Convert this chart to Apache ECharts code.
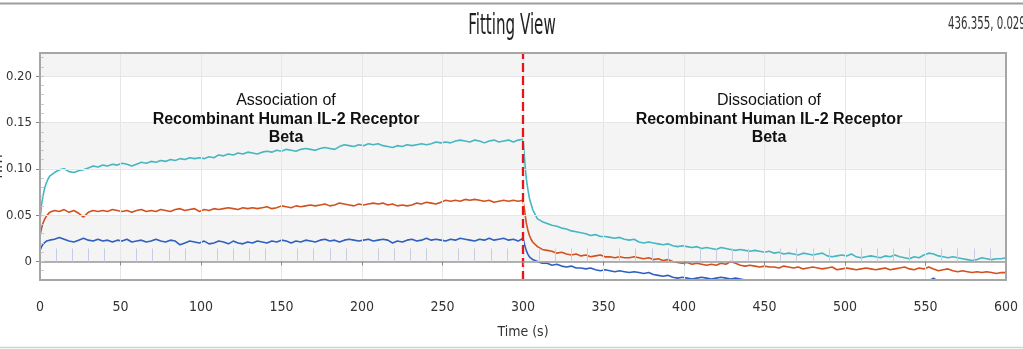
<!DOCTYPE html>
<html>
<head>
<meta charset="utf-8">
<script src="https://cdn.jsdelivr.net/npm/echarts@6/dist/echarts.min.js"></script>
<style>
  html, body { margin: 0; padding: 0; background: #ffffff; }
  #chart { width: 1023px; height: 349px; }
</style>
</head>
<body>
<div id="chart"></div>
<script>
// Sample times (s)
const timeS = [
  0, 1, 2, 3, 4, 5, 6, 9, 12, 15,
  18, 21, 24, 27, 30, 33, 36, 39, 42, 45,
  48, 51, 54, 57, 60, 63, 66, 69, 72, 75,
  78, 81, 84, 87, 90, 93, 96, 99, 102, 105,
  108, 111, 114, 117, 120, 123, 126, 129, 132, 135,
  138, 141, 144, 147, 150, 153, 156, 159, 162, 165,
  168, 171, 174, 177, 180, 183, 186, 189, 192, 195,
  198, 201, 204, 207, 210, 213, 216, 219, 222, 225,
  228, 231, 234, 237, 240, 243, 246, 249, 252, 255,
  258, 261, 264, 267, 270, 273, 276, 279, 282, 285,
  288, 291, 294, 297, 300, 301, 302, 303, 304, 305,
  306, 309, 312, 315, 318, 321, 324, 327, 330, 333,
  336, 339, 342, 345, 348, 351, 354, 357, 360, 363,
  366, 369, 372, 375, 378, 381, 384, 387, 390, 393,
  396, 399, 402, 405, 408, 411, 414, 417, 420, 423,
  426, 429, 432, 435, 438, 441, 444, 447, 450, 453,
  456, 459, 462, 465, 468, 471, 474, 477, 480, 483,
  486, 489, 492, 495, 498, 501, 504, 507, 510, 513,
  516, 519, 522, 525, 528, 531, 534, 537, 540, 543,
  546, 549, 552, 555, 558, 561, 564, 567, 570, 573,
  576, 579, 582, 585, 588, 591, 594, 597, 600
];

// Binding response (nm), highest concentration
const tealNm = [
  0.045, 0.062, 0.072, 0.080, 0.085, 0.089, 0.092, 0.096, 0.099, 0.100,
  0.097, 0.096, 0.098, 0.099, 0.101, 0.103, 0.102, 0.104, 0.103, 0.105,
  0.104, 0.106, 0.105, 0.103, 0.105, 0.107, 0.106, 0.108, 0.107, 0.109,
  0.108, 0.110, 0.109, 0.111, 0.110, 0.112, 0.111, 0.112, 0.111, 0.113,
  0.112, 0.115, 0.114, 0.116, 0.115, 0.117, 0.116, 0.118, 0.117, 0.116,
  0.118, 0.119, 0.118, 0.120, 0.119, 0.121, 0.120, 0.119, 0.121, 0.122,
  0.121, 0.120, 0.122, 0.123, 0.122, 0.121, 0.124, 0.126, 0.125, 0.124,
  0.126, 0.125, 0.127, 0.126, 0.127, 0.125, 0.124, 0.123, 0.125, 0.124,
  0.126, 0.125, 0.126, 0.127, 0.126, 0.127, 0.129, 0.128, 0.129, 0.128,
  0.130, 0.131, 0.130, 0.129, 0.131, 0.130, 0.128, 0.130, 0.131, 0.129,
  0.130, 0.131, 0.129, 0.131, 0.132, 0.110, 0.090, 0.078, 0.068, 0.062,
  0.056, 0.046, 0.043, 0.041, 0.039, 0.038, 0.036, 0.035, 0.033, 0.032,
  0.031, 0.030, 0.028, 0.029, 0.027, 0.027, 0.026, 0.025, 0.026, 0.024,
  0.023, 0.024, 0.021, 0.020, 0.021, 0.020, 0.019, 0.018, 0.019, 0.017,
  0.016, 0.017, 0.016, 0.015, 0.016, 0.014, 0.015, 0.014, 0.013, 0.015,
  0.014, 0.013, 0.012, 0.013, 0.012, 0.011, 0.012, 0.011, 0.010, 0.011,
  0.009, 0.010, 0.008, 0.009, 0.008, 0.007, 0.009, 0.008, 0.007, 0.008,
  0.009, 0.006, 0.005, 0.006, 0.007, 0.006, 0.008, 0.005, 0.004, 0.005,
  0.006, 0.005, 0.004, 0.006, 0.005, 0.007, 0.005, 0.004, 0.003, 0.005,
  0.004, 0.007, 0.009, 0.008, 0.006, 0.005, 0.004, 0.005, 0.004, 0.003,
  0.002, 0.001, 0.002, 0.004, 0.003, 0.002, 0.003, 0.003, 0.004
];

// Binding response (nm), middle concentration
const orangeNm = [
  0.028, 0.036, 0.042, 0.046, 0.049, 0.051, 0.053, 0.055, 0.054, 0.056,
  0.053, 0.055, 0.052, 0.048, 0.053, 0.055, 0.054, 0.055, 0.054, 0.056,
  0.055, 0.054, 0.055, 0.053, 0.055, 0.056, 0.054, 0.055, 0.054, 0.056,
  0.055, 0.054, 0.056, 0.057, 0.055, 0.056, 0.057, 0.054, 0.056, 0.055,
  0.057, 0.056, 0.057, 0.058, 0.057, 0.056, 0.058, 0.057, 0.058, 0.057,
  0.058, 0.059, 0.057, 0.058, 0.060, 0.059, 0.058, 0.060, 0.059, 0.060,
  0.061, 0.060, 0.061, 0.062, 0.060, 0.061, 0.063, 0.062, 0.061, 0.060,
  0.062, 0.061, 0.062, 0.063, 0.062, 0.063, 0.061, 0.062, 0.060, 0.061,
  0.060, 0.061, 0.063, 0.062, 0.064, 0.063, 0.062, 0.064, 0.066, 0.065,
  0.066, 0.065, 0.067, 0.066, 0.067, 0.066, 0.065, 0.066, 0.064, 0.065,
  0.066, 0.065, 0.066, 0.065, 0.066, 0.055, 0.042, 0.034, 0.028, 0.024,
  0.021, 0.016, 0.013, 0.012, 0.011, 0.009, 0.010, 0.008, 0.007, 0.008,
  0.006, 0.007, 0.005, 0.006, 0.007, 0.005, 0.005, 0.004, 0.005, 0.004,
  0.004, 0.005, 0.004, 0.003, 0.004, 0.002, 0.003, 0.001, 0.002, 0.000,
  -0.001, -0.002, -0.001, -0.003, -0.002, -0.003, -0.004, -0.003, -0.004, -0.002,
  -0.003, 0.000, -0.002, -0.004, -0.005, -0.004, -0.005, -0.006, -0.005, -0.006,
  -0.006, -0.007, -0.005, -0.006, -0.007, -0.006, -0.008, -0.007, -0.006, -0.007,
  -0.008, -0.007, -0.006, -0.009, -0.008, -0.007, -0.008, -0.009, -0.008, -0.007,
  -0.008, -0.009, -0.008, -0.007, -0.009, -0.008, -0.007, -0.006, -0.008, -0.009,
  -0.007, -0.008, -0.006, -0.008, -0.010, -0.009, -0.008, -0.010, -0.011, -0.010,
  -0.011, -0.012, -0.011, -0.012, -0.011, -0.012, -0.013, -0.012, -0.012
];

// Binding response (nm), lowest concentration
const blueNm = [
  0.012, 0.016, 0.019, 0.021, 0.022, 0.021, 0.023, 0.024, 0.026, 0.024,
  0.022, 0.021, 0.023, 0.025, 0.023, 0.022, 0.024, 0.022, 0.023, 0.021,
  0.023, 0.022, 0.024, 0.021, 0.022, 0.023, 0.021, 0.022, 0.024, 0.022,
  0.021, 0.023, 0.022, 0.018, 0.020, 0.022, 0.021, 0.020, 0.022, 0.019,
  0.020, 0.022, 0.021, 0.019, 0.022, 0.020, 0.019, 0.021, 0.020, 0.022,
  0.021, 0.020, 0.022, 0.021, 0.023, 0.022, 0.020, 0.022, 0.021, 0.023,
  0.022, 0.021, 0.023, 0.024, 0.022, 0.023, 0.021, 0.023, 0.024, 0.023,
  0.022, 0.023, 0.024, 0.022, 0.023, 0.024, 0.023, 0.020, 0.022, 0.021,
  0.023, 0.024, 0.022, 0.023, 0.025, 0.023, 0.024, 0.023, 0.022, 0.024,
  0.023, 0.025, 0.024, 0.023, 0.022, 0.024, 0.023, 0.025, 0.023, 0.024,
  0.025, 0.023, 0.024, 0.022, 0.025, 0.018, 0.012, 0.008, 0.005, 0.003,
  0.002, 0.000, -0.002, -0.002, -0.004, -0.003, -0.005, -0.006, -0.005, -0.007,
  -0.007, -0.008, -0.007, -0.009, -0.010, -0.009, -0.010, -0.011, -0.010, -0.011,
  -0.012, -0.011, -0.012, -0.013, -0.012, -0.014, -0.015, -0.016, -0.015, -0.017,
  -0.018, -0.017, -0.018, -0.019, -0.018, -0.017, -0.018, -0.019, -0.018, -0.017,
  -0.018, -0.019, -0.018, -0.019, -0.020, -0.021, -0.022, -0.021, -0.022, -0.023,
  -0.022, -0.023, -0.024, -0.023, -0.024, -0.025, -0.024, -0.023, -0.024, -0.025,
  -0.024, -0.023, -0.024, -0.025, -0.024, -0.023, -0.024, -0.025, -0.024, -0.023,
  -0.024, -0.025, -0.024, -0.023, -0.024, -0.025, -0.024, -0.023, -0.024, -0.025,
  -0.024, -0.023, -0.021, -0.018, -0.022, -0.024, -0.025, -0.024, -0.023, -0.024,
  -0.025, -0.024, -0.025, -0.026, -0.025, -0.024, -0.025, -0.026, -0.025
];

// Axis ranges and tick values
const timeRange = [0, 600];
const timeStep = 50;
const timeGridLines = [50, 100, 150, 200, 250, 300, 350, 400, 450, 500, 550];
const nmRange = [-0.02, 0.225];
const nmMinorStep = 0.01;
const nmLabelValues = [0, 0.05, 0.10, 0.15, 0.20];
const nmBandEdges = [-0.02, 0, 0.05, 0.10, 0.15, 0.20, 0.225];
const switchTime = 300;

// Texts
const titleText = 'Fitting View';
const readoutText = '436.355, 0.029';
const assocLines = ['Association of', 'Recombinant Human IL-2 Receptor', 'Beta'];
const dissocLines = ['Dissociation of', 'Recombinant Human IL-2 Receptor', 'Beta'];

const NARROW = '"Liberation Sans Narrow", "DejaVu Sans Condensed", "Arial Narrow", sans-serif';
const ARIAL = '"Liberation Sans", Arial, sans-serif';

function pairs(values) {
  return timeS.map((t, i) => [t, values[i]]);
}

// alternate shaded bands between the major y values
const bandData = [];
for (let i = 0; i < nmBandEdges.length - 1; i++) {
  if (i % 2 === 1) {
    bandData.push([{ yAxis: nmBandEdges[i] }, { yAxis: nmBandEdges[i + 1] }]);
  }
}
const gridLineData = nmLabelValues.map(v => ({ yAxis: v }))
  .concat(timeGridLines.map(t => ({ xAxis: t })));

function annotation(cx, lines) {
  return {
    type: 'group',
    z: 20,
    children: lines.map((txt, i) => ({
      type: 'text',
      z: 20,
      x: cx,
      y: [101, 120, 138][i],
      style: {
        text: txt,
        font: (i === 0 ? 'normal ' : 'bold ') + '16px ' + ARIAL,
        fill: '#111',
        textAlign: 'center',
        textVerticalAlign: 'middle'
      }
    }))
  };
}

const chart = echarts.init(document.getElementById('chart'), null, { renderer: 'canvas' });

chart.setOption({
  animation: false,
  backgroundColor: '#ffffff',
  grid: {
    left: 40, right: 17, top: 53, bottom: 69,
    containLabel: false,
    outerBoundsMode: 'none',
    show: true,
    z: 6,
    backgroundColor: 'transparent',
    borderColor: '#a6a6a6',
    borderWidth: 2
  },
  xAxis: [
    {
      type: 'value',
      min: timeRange[0], max: timeRange[1], interval: timeStep,
      z: 5,
      name: 'Time (s)',
      nameLocation: 'middle',
      nameGap: 45,
      nameMoveOverlap: false,
      nameTextStyle: { fontFamily: NARROW, fontSize: 14, color: '#333' },
      axisLine: { show: true, lineStyle: { color: '#9a9a9a', width: 1.5 } },
      axisTick: { show: false, inside: true },
      minorTick: { show: true, splitNumber: 5, length: 13, lineStyle: { color: '#c9cde2', width: 1 } },
      axisLabel: { fontFamily: NARROW, fontSize: 14, color: '#333', margin: 20 },
      splitLine: { show: false }
    },
    {
      type: 'value',
      min: timeRange[0], max: timeRange[1], interval: timeStep,
      position: 'bottom',
      z: 5,
      axisLine: { show: false },
      axisTick: { show: true, length: 4, lineStyle: { color: '#888' } },
      axisLabel: { show: false },
      splitLine: { show: false }
    }
  ],
  yAxis: [
    {
      type: 'value',
      min: nmRange[0], max: nmRange[1], interval: nmMinorStep,
      z: 5,
      name: 'nm',
      nameLocation: 'middle',
      nameGap: 34,
      nameMoveOverlap: false,
      nameTextStyle: { fontFamily: NARROW, fontSize: 17, color: '#333' },
      axisLine: { show: true, lineStyle: { color: '#9a9a9a', width: 1.5 } },
      axisTick: { show: true, inside: true, length: 4, lineStyle: { color: '#c6c9e0' } },
      axisLabel: {
        fontFamily: NARROW, fontSize: 13, color: '#333', margin: 8,
        formatter: v => {
          const hit = nmLabelValues.find(m => Math.abs(m - v) < 1e-6);
          if (hit === undefined) return '';
          return hit === 0 ? '0' : hit.toFixed(2);
        }
      },
      splitLine: { show: false }
    },
    {
      type: 'value',
      min: nmRange[0], max: nmRange[1],
      position: 'left',
      z: 5,
      axisLine: { show: false },
      axisTick: { show: true, length: 4, customValues: nmLabelValues, lineStyle: { color: '#888' } },
      axisLabel: { show: false },
      splitLine: { show: false }
    }
  ],
  graphic: [
    { type: 'line', z: 20, shape: { x1: 0, y1: 3.5, x2: 1023, y2: 3.5 }, style: { stroke: '#9d9d9d', lineWidth: 2 } },
    { type: 'line', z: 20, shape: { x1: 0, y1: 347.5, x2: 1023, y2: 347.5 }, style: { stroke: '#d2d2d2', lineWidth: 1.5 } },
    {
      type: 'text', z: 20, x: 512, y: 27, scaleX: 0.8, scaleY: 1.35,
      style: { text: titleText, font: '21px ' + NARROW, fill: '#222', textAlign: 'center', textVerticalAlign: 'middle' }
    },
    {
      type: 'text', z: 20, x: 948, y: 24, scaleX: 0.84, scaleY: 1.3,
      style: { text: readoutText, font: '13.5px ' + NARROW, fill: '#333', textAlign: 'left', textVerticalAlign: 'middle' }
    },
    annotation(286, assocLines),
    annotation(769, dissocLines)
  ],
  series: [
    {
      type: 'line', name: 'bands', data: [], z: 0, silent: true,
      markArea: { silent: true, itemStyle: { color: '#f4f4f4' }, label: { show: false }, data: bandData }
    },
    {
      type: 'line', name: 'gridlines', data: [], z: 1, silent: true,
      markLine: {
        silent: true, symbol: 'none', label: { show: false },
        lineStyle: { color: '#e6e6e6', width: 1, type: 'solid' },
        data: gridLineData
      }
    },
    {
      type: 'line', name: 'teal', data: pairs(tealNm), z: 2,
      showSymbol: false, clip: true,
      lineStyle: { color: '#45b6c2', width: 1.6 }, itemStyle: { color: '#45b6c2' }
    },
    {
      type: 'line', name: 'orange', data: pairs(orangeNm), z: 2,
      showSymbol: false, clip: true,
      lineStyle: { color: '#d3501f', width: 1.6 }, itemStyle: { color: '#d3501f' }
    },
    {
      type: 'line', name: 'blue', data: pairs(blueNm), z: 2,
      showSymbol: false, clip: true,
      lineStyle: { color: '#2f60c0', width: 1.6 }, itemStyle: { color: '#2f60c0' }
    },
    {
      type: 'line', name: 'switch', data: [], z: 4, silent: true,
      markLine: {
        silent: true, symbol: 'none', label: { show: false },
        lineStyle: { color: '#e8141c', width: 2.3, type: [9, 4] },
        data: [{ xAxis: switchTime }]
      }
    }
  ]
});
</script>
</body>
</html>
